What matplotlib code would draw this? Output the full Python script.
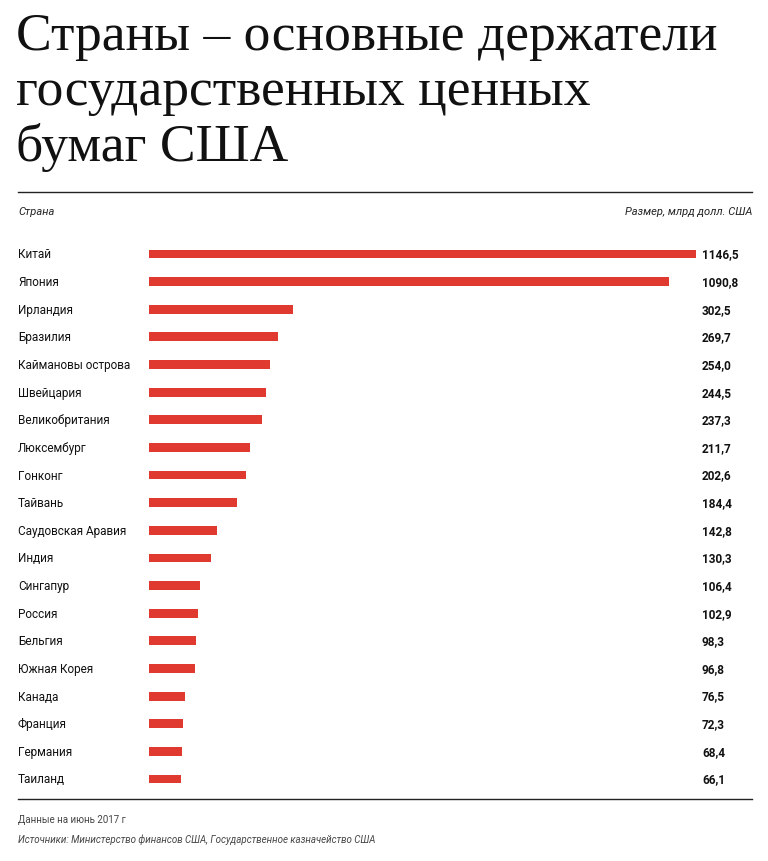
import matplotlib
matplotlib.use("Agg")
import matplotlib.pyplot as plt
from matplotlib.transforms import blended_transform_factory

countries = ["Китай", "Япония", "Ирландия", "Бразилия", "Каймановы острова",
             "Швейцария", "Великобритания", "Люксембург", "Гонконг", "Тайвань",
             "Саудовская Аравия", "Индия", "Сингапур", "Россия", "Бельгия",
             "Южная Корея", "Канада", "Франция", "Германия", "Таиланд"]
values = [1146.5, 1090.8, 302.5, 269.7, 254.0, 244.5, 237.3, 211.7, 202.6, 184.4,
          142.8, 130.3, 106.4, 102.9, 98.3, 96.8, 76.5, 72.3, 68.4, 66.1]

W, H = 768, 862
fig = plt.figure(figsize=(W / 100, H / 100), dpi=100)
fig.patch.set_facecolor("white")
plt.rcParams["font.family"] = "Roboto"

def fx(px): return px / W
def fy(py): return 1 - py / H

# title
for i, line in enumerate(["Страны – основные держатели", "государственных ценных", "бумаг США"]):
    fig.text(fx(16), fy(37 + 55 * i), line, family="Liberation Serif", fontsize=38.5,
             va="center", ha="left", color="#111111")

fig.add_artist(plt.Line2D([fx(18), fx(752)], [fy(193), fy(193)], color="#222222", lw=1))
fig.text(fx(18), fy(212), "Страна", fontsize=8, style="italic", va="center", color="#222222")
fig.text(fx(752), fy(212), "Размер, млрд долл. США", fontsize=8, style="italic",
         va="center", ha="right", color="#222222")

# bars
step = 27.63
top = 255 - step / 2
ax = fig.add_axes([fx(149), fy(top + step * len(values)), fx(696) - fx(149), step * len(values) / H])
ypos = list(range(len(values)))
ax.barh(ypos, values, height=0.32, color="#e03a30")
ax.set_xlim(0, 1146.5)
ax.set_ylim(len(values) - 0.5, -0.5)
ax.axis("off")
tr = blended_transform_factory(fig.transFigure, ax.transData)
for y, c, v in zip(ypos, countries, values):
    ax.text(fx(18), y, c, transform=tr, fontsize=8.5, va="center", ha="left", color="#111111")
    ax.text(fx(702), y, f"{v:.1f}".replace(".", ","), transform=tr, fontsize=8.5,
            fontweight="bold", va="center", ha="left", color="#111111")

fig.add_artist(plt.Line2D([fx(18), fx(752)], [fy(800), fy(800)], color="#222222", lw=1))
fig.text(fx(18), fy(820), "Данные на июнь 2017 г", fontsize=7, va="center", color="#444444")
fig.text(fx(18), fy(840), "Источники: Министерство финансов США, Государственное казначейство США",
         fontsize=7, style="italic", va="center", color="#444444")

fig.savefig("out.png", dpi=100)
